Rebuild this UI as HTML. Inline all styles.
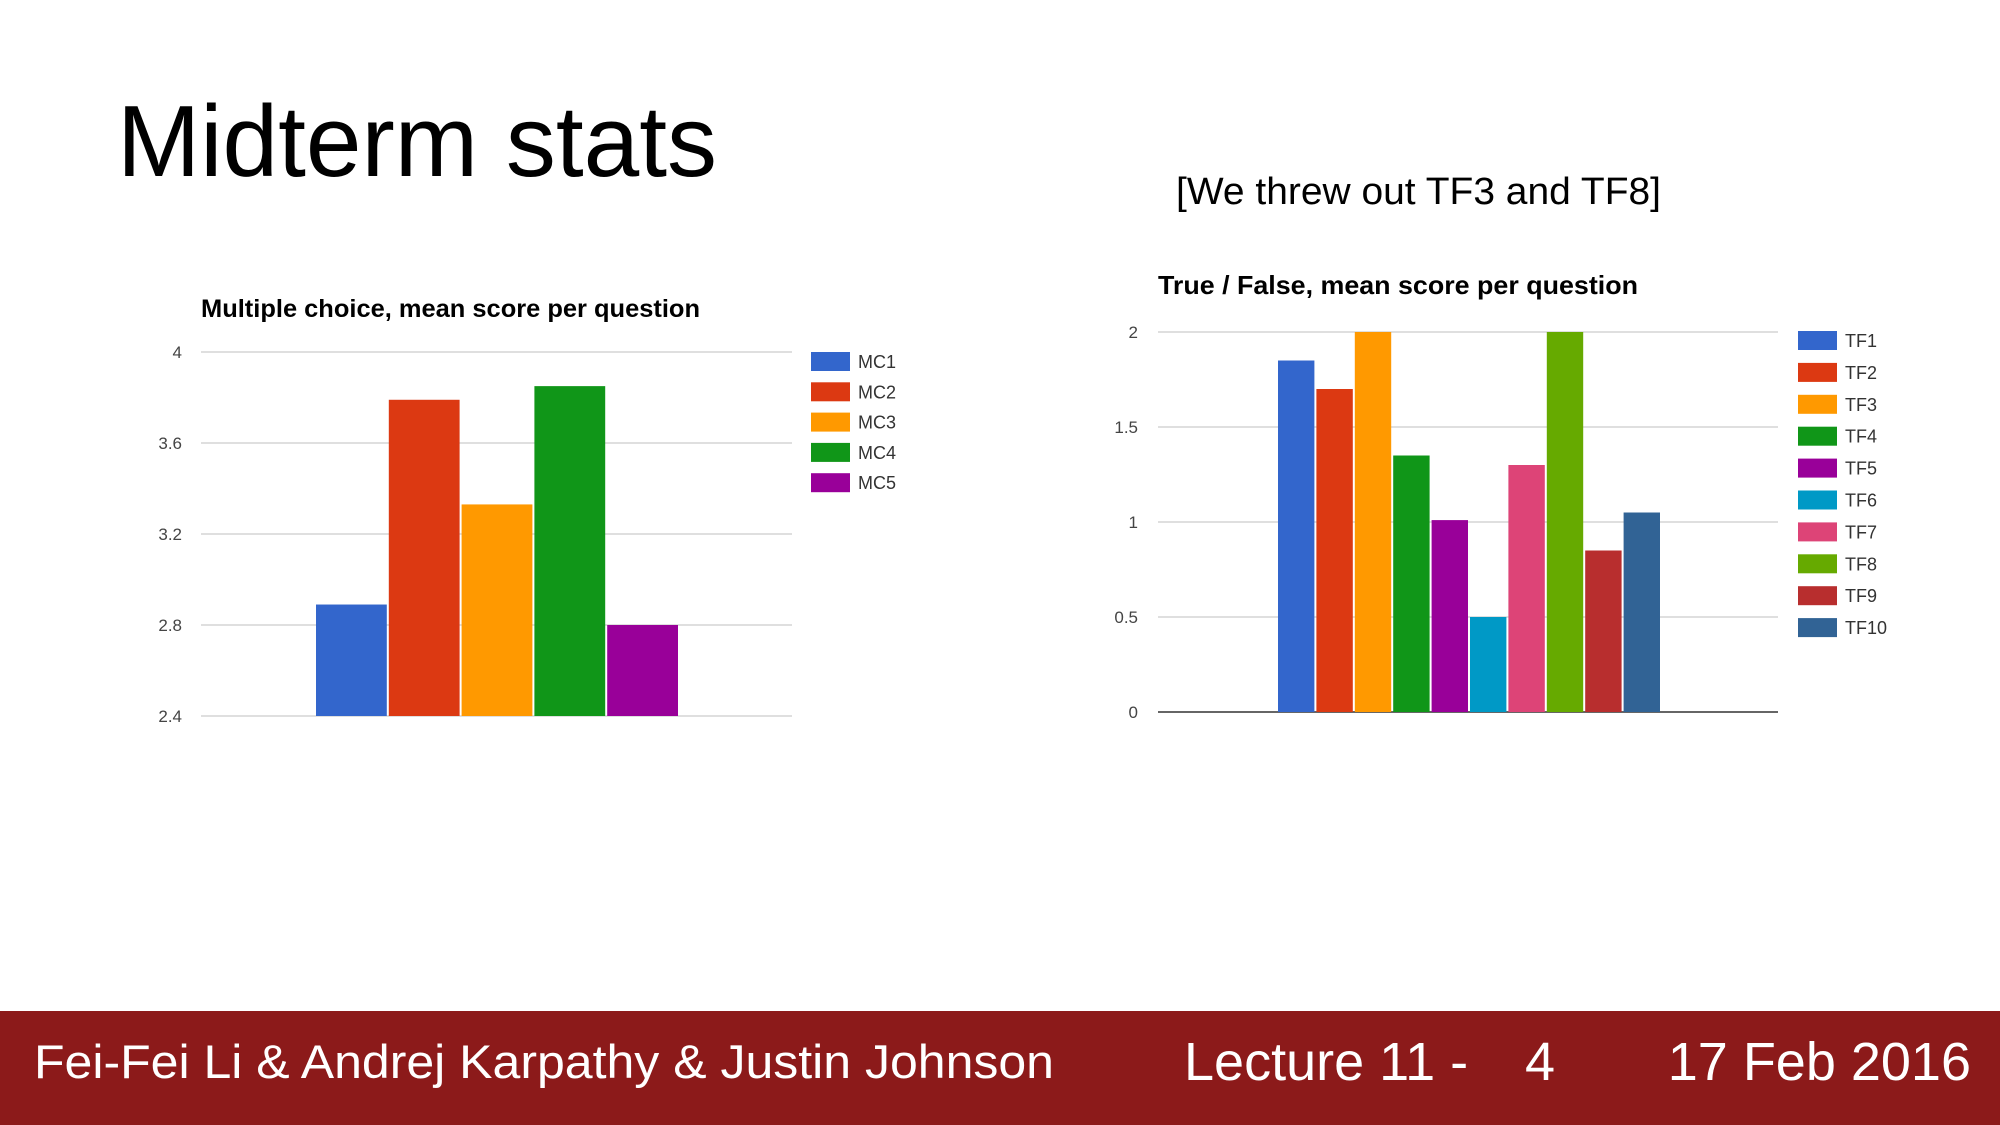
<!DOCTYPE html>
<html><head><meta charset="utf-8"><style>
html,body{margin:0;padding:0;background:#fff;}
svg{display:block;font-family:"Liberation Sans",Arial,sans-serif;}
</style></head><body>
<svg id="s" width="2000" height="1125" viewBox="0 0 2000 1125">
<rect x="0" y="0" width="2000" height="1125" fill="#fff"/>
<text x="117" y="176" font-size="101" fill="#000" textLength="600" lengthAdjust="spacingAndGlyphs">Midterm stats</text>
<text x="1176" y="204" font-size="38" fill="#000" textLength="485" lengthAdjust="spacingAndGlyphs">[We threw out TF3 and TF8]</text>
<g id="mc">
<text x="201" y="317" font-size="25" font-weight="bold" fill="#000" textLength="499" lengthAdjust="spacingAndGlyphs">Multiple choice, mean score per question</text>
</g>
<g id="tf">
<text x="1158" y="294" font-size="26" font-weight="bold" fill="#000" textLength="480" lengthAdjust="spacingAndGlyphs">True / False, mean score per question</text>
</g>
<rect x="0" y="1011" width="2000" height="114" fill="#8c1a1a"/>
<text x="34" y="1078" font-size="47" fill="#fff" textLength="1020" lengthAdjust="spacingAndGlyphs">Fei-Fei Li &amp; Andrej Karpathy &amp; Justin Johnson</text>
<text x="1184" y="1080" font-size="54" fill="#fff">Lecture 11 -</text>
<text x="1525" y="1080" font-size="54" fill="#fff">4</text>
<text x="1971" y="1080" font-size="54" fill="#fff" text-anchor="end">17 Feb 2016</text>
</svg>
<script>
const mcCategories = ["MC1","MC2","MC3","MC4","MC5"];
const mcValues = [2.89, 3.79, 3.33, 3.85, 2.80];
const mcTicks = [2.4, 2.8, 3.2, 3.6, 4];
const mcTickLabels = ["2.4","2.8","3.2","3.6","4"];
const mcColors = ["#3366cc","#dc3912","#ff9900","#109618","#990099"];
const tfCategories = ["TF1","TF2","TF3","TF4","TF5","TF6","TF7","TF8","TF9","TF10"];
const tfValues = [1.85, 1.70, 2.0, 1.35, 1.01, 0.50, 1.30, 2.0, 0.85, 1.05];
const tfTicks = [0, 0.5, 1, 1.5, 2];
const tfTickLabels = ["0","0.5","1","1.5","2"];
const tfColors = ["#3366cc","#dc3912","#ff9900","#109618","#990099","#0099c6","#dd4477","#66aa00","#b82e2e","#316395"];
const NS = "http://www.w3.org/2000/svg";
function mk(tag, attrs, parent){const e=document.createElementNS(NS,tag);for(const k in attrs)e.setAttribute(k,attrs[k]);parent.appendChild(e);return e;}
function draw(g, cats, vals, ticks, labels, colors, cfg, prefix){
  const y = v => cfg.y0 - (v - cfg.min)/(cfg.max - cfg.min)*(cfg.y0 - cfg.y1);
  ticks.forEach((t,i)=>{
    const base = i===0 && cfg.darkBase;
    const l = mk("line",{x1:cfg.gx0,x2:cfg.gx1,y1:y(t),y2:y(t),stroke:base?"#333":"#ccc","stroke-width":base?1.6:1.3},g);
    
    
    const tx = mk("text",{x:cfg.tickX,y:y(t)+6,"font-size":17,fill:"#444","text-anchor":"end"},g);
    tx.textContent = labels[i];
    
    
  });
  const step = (cfg.bx1 - cfg.bx0)/cats.length;
  cats.forEach((c,i)=>{
    const b = mk("rect",{x:cfg.bx0+i*step+1,y:y(vals[i]),width:step-2,height:cfg.y0-y(vals[i]),fill:colors[i]},g);
    
    
    const sw = mk("rect",{x:cfg.lx,y:cfg.ly+i*cfg.lstep-9,width:39,height:19,fill:colors[i]},g);
    
    
    const lt = mk("text",{x:cfg.lx+47,y:cfg.ly+i*cfg.lstep+7,"font-size":18,fill:"#333"},g);
    lt.textContent = c;
    
    
  });
}
draw(document.getElementById("mc"), mcCategories, mcValues, mcTicks, mcTickLabels, mcColors,
  {min:2.4,max:4,y0:716,y1:352,gx0:201,gx1:792,tickX:182,bx0:315,bx1:679,lx:811,ly:361,lstep:30.3,darkBase:false},"mc");
draw(document.getElementById("tf"), tfCategories, tfValues, tfTicks, tfTickLabels, tfColors,
  {min:0,max:2,y0:712,y1:332,gx0:1158,gx1:1778,tickX:1138,bx0:1277,bx1:1661,lx:1798,ly:340,lstep:31.9,darkBase:true},"tf");
</script>
</body></html>
